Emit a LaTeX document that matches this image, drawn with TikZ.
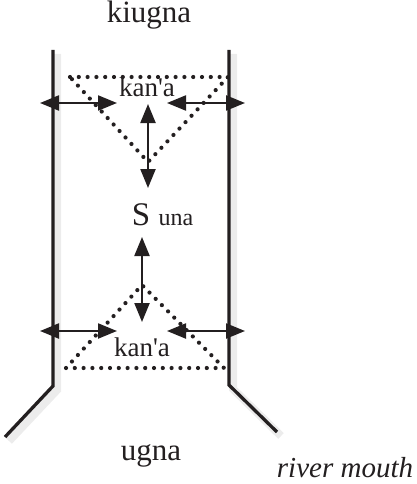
\documentclass[tikz,border=0pt]{standalone}
\usepackage{fontspec}
\setmainfont{Liberation Serif}
\usetikzlibrary{arrows.meta, positioning}
\definecolor{ink}{HTML}{231F20}
\definecolor{haze}{HTML}{DDDDDD}

\begin{document}
\begin{tikzpicture}[x=1pt, y=-1pt,
  bank/.style={draw=ink, line width=3.3pt, line join=miter},
  flow/.style={{Triangle[length=19pt,width=15pt]}-{Triangle[length=19pt,width=15pt]}, draw=ink, line width=2.2pt},
  pool/.style={draw=ink, line width=4.2pt, line cap=round, dash pattern=on 0pt off 8.8pt},
  shade/.style={draw=haze, line width=8pt, opacity=0.55},
  biglbl/.style={font=\fontsize{31}{35}\selectfont, text=ink, inner sep=0pt, anchor=base},
  smalllbl/.style={font=\fontsize{27}{31}\selectfont, text=ink, inner sep=0pt, anchor=base},
]
\useasboundingbox (0,0) rectangle (417,484);

% soft shadow behind the banks
\draw[shade] (57,54) -- (57,390) -- (9,441);
\draw[shade] (233,54) -- (233,389) -- (281,436);

% river banks
\draw[bank] (53,50) -- (53,386) -- (5,437);
\draw[bank] (229,50) -- (229,385) -- (277,432);

% kan'a pools
\draw[pool] (70,77) -- (228,77) -- (148,162) -- cycle;
\draw[pool] (66,368) -- (224,368) -- (142,285) -- cycle;

% labels
\node[biglbl] (up) at (149,23) {kiugna};
\node[smalllbl] (kantop) at (147,97) {kan\textquotesingle a};
\node[biglbl, font=\fontsize{33}{37}\selectfont] (s) at (141,225) {S};
\node[smalllbl, font=\fontsize{24}{28}\selectfont, right=8pt of s.base east, anchor=base west] (una) {una};
\node[smalllbl] (kanbot) at (142,356) {kan\textquotesingle a};
\node[biglbl] (down) at (151,460) {ugna};
\node[biglbl, font=\fontsize{29}{33}\selectfont\itshape] (mouth) at (345,477) {river mouth};

% flow ends
\coordinate (tl1) at (40,103);
\coordinate (tl2) at (117,103);
\coordinate (tr1) at (167,103);
\coordinate (tr2) at (245,103);
\coordinate (tv1) at (148,104);
\coordinate (tv2) at (148,188);
\coordinate (bv1) at (142,237);
\coordinate (bv2) at (142,322);
\coordinate (bl1) at (40,331);
\coordinate (bl2) at (117,331);
\coordinate (br1) at (167,331);
\coordinate (br2) at (245,331);

\draw[flow] (tl1) -- (tl2);
\draw[flow] (tr1) -- (tr2);
\draw[flow] (tv1) -- (tv2);
\draw[flow] (bv1) -- (bv2);
\draw[flow] (bl1) -- (bl2);
\draw[flow] (br1) -- (br2);
\end{tikzpicture}
\end{document}
